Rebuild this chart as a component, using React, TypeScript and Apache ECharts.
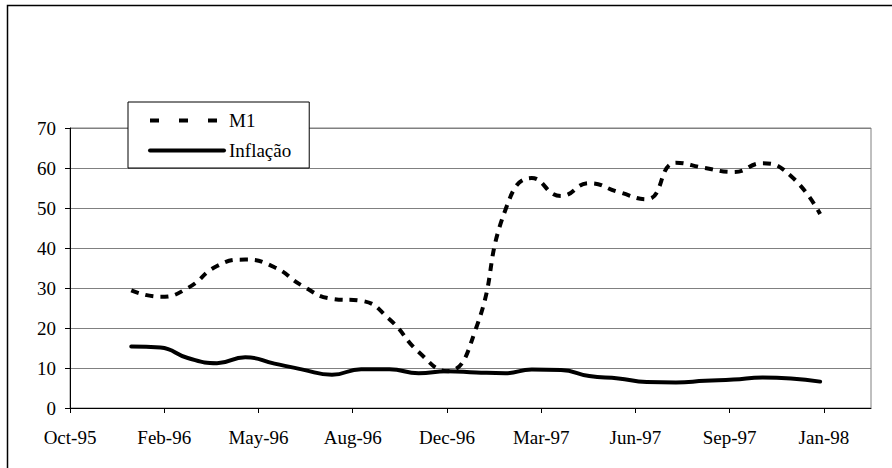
import React, { useEffect, useRef } from "react";
import * as echarts from "echarts";

// Monthly observations (first day of month)
const months = [
  "1996-01", "1996-02", "1996-03", "1996-04", "1996-05", "1996-06",
  "1996-07", "1996-08", "1996-09", "1996-10", "1996-11", "1996-12",
  "1997-01", "1997-02", "1997-03", "1997-04", "1997-05", "1997-06",
  "1997-07", "1997-08", "1997-09", "1997-10", "1997-11", "1997-12",
  "1998-01",
];
const m1 = [
  29.4, 27.8, 30.0, 35.5, 37.1, 35.2, 30.5, 27.3, 26.8, 22.2, 14.0, 9.2,
  20.0, 49.5, 57.5, 53.0, 56.2, 54.0, 52.2, 61.3, 60.0, 59.0, 61.2, 58.0,
  48.5,
];
const inflacao = [
  15.4, 15.1, 12.5, 11.2, 12.7, 11.1, 9.6, 8.3, 9.7, 9.7, 8.7, 9.2,
  8.9, 8.7, 9.6, 9.5, 8.0, 7.4, 6.5, 6.4, 6.8, 7.1, 7.6, 7.4,
  6.6,
];
const seriesNames = ["M1", "Inflação"];
const xTickLabels = [
  "Oct-95", "Feb-96", "May-96", "Aug-96", "Dec-96",
  "Mar-97", "Jun-97", "Sep-97", "Jan-98",
];
const yTicks = [0, 10, 20, 30, 40, 50, 60, 70];

// Excel-like serial day numbers for the date axis
const X_MIN = 35000;
const X_STEP = 100;
const X_MAX = 35850;

const toSerial = (ym: string) => {
  const [y, m] = ym.split("-").map(Number);
  return Date.UTC(y, m - 1, 1) / 86400000 + 25569;
};

const FONT = "'Liberation Serif', 'Times New Roman', serif";

export default function App() {
  const ref = useRef<HTMLDivElement>(null);

  useEffect(() => {
    if (!ref.current) return;
    const chart = echarts.init(ref.current, null, { renderer: "svg" });
    const xs = months.map(toSerial);
    const tickValues = xTickLabels.map((_, i) => X_MIN + i * X_STEP);

    chart.setOption({
      animation: false,
      backgroundColor: "#ffffff",
      textStyle: { fontFamily: FONT, color: "#000" },
      graphic: [
        {
          type: "rect",
          z: 0,
          silent: true,
          shape: { x: 7.5, y: 5.5, width: 1000, height: 1000 },
          style: { fill: "none", stroke: "#000", lineWidth: 1.5 },
        },
      ],
      grid: {
        left: 70,
        top: 128,
        right: 21,
        bottom: 60,
        show: true,
        borderColor: "#808080",
        borderWidth: 1,
        backgroundColor: "transparent",
      },
      legend: {
        orient: "vertical",
        left: 128,
        top: 102,
        itemWidth: 74,
        itemHeight: 19,
        itemGap: 11,
        symbolSize: 0,
        padding: [9, 18, 8, 20],
        backgroundColor: "#fff",
        borderColor: "#000",
        borderWidth: 1,
        borderRadius: 0,
        textStyle: { fontFamily: FONT, fontSize: 19, color: "#000", padding: [0, 0, 0, 0] },
        data: [
          {
            name: seriesNames[0],
            itemStyle: { opacity: 0 },
            lineStyle: { type: [9, 20], width: 4, color: "#000", cap: "butt" },
          },
          {
            name: seriesNames[1],
            itemStyle: { opacity: 0 },
            lineStyle: { type: "solid", width: 4, color: "#000" },
          },
        ],
      },
      xAxis: {
        type: "value",
        min: X_MIN,
        max: X_MAX,
        interval: X_STEP,
        splitLine: { show: false },
        axisLine: { show: true, lineStyle: { color: "#000", width: 1 } },
        axisTick: {
          show: true,
          length: 5,
          lineStyle: { color: "#000" },
          customValues: tickValues,
        },
        axisLabel: {
          margin: 20,
          fontFamily: FONT,
          fontSize: 19,
          color: "#000",
          customValues: tickValues,
          formatter: (v: number) => {
            const i = Math.round((v - X_MIN) / X_STEP);
            return xTickLabels[i] ?? "";
          },
        },
      },
      yAxis: {
        type: "value",
        min: yTicks[0],
        max: yTicks[yTicks.length - 1],
        interval: yTicks[1] - yTicks[0],
        axisLine: { show: true, lineStyle: { color: "#000", width: 1 } },
        axisTick: { show: true, length: 5, lineStyle: { color: "#000" } },
        axisLabel: {
          margin: 14,
          fontFamily: FONT,
          fontSize: 19,
          color: "#000",
        },
        splitLine: { show: true, lineStyle: { color: "#808080", width: 1.2 } },
      },
      series: [
        {
          name: seriesNames[0],
          type: "line",
          data: xs.map((x, i) => [x, m1[i]]),
          smooth: 0.5,
          symbol: "none",
          lineStyle: { color: "#000", width: 4, type: [8, 7], cap: "butt" },
          itemStyle: { color: "#000" },
          z: 3,
        },
        {
          name: seriesNames[1],
          type: "line",
          data: xs.map((x, i) => [x, inflacao[i]]),
          smooth: 0.5,
          symbol: "none",
          lineStyle: { color: "#000", width: 4, type: "solid", cap: "round" },
          itemStyle: { color: "#000" },
          z: 2,
        },
      ],
    });

    return () => chart.dispose();
  }, []);

  return (
    <div
      ref={ref}
      style={{ position: "fixed", left: 0, top: 0, width: 892, height: 468 }}
    />
  );
}
